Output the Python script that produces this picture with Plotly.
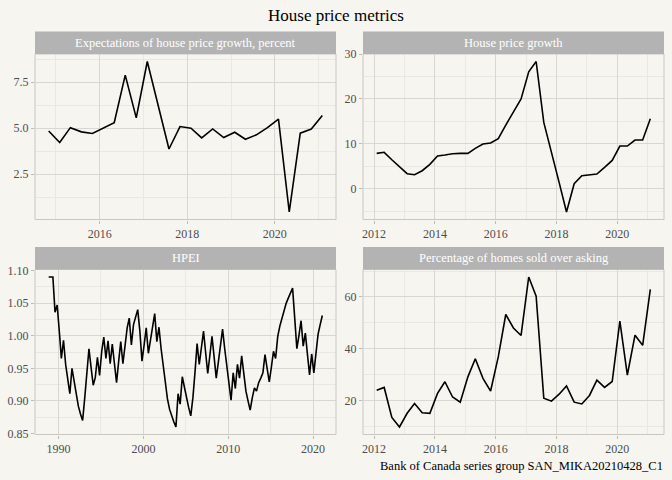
import pandas as pd
import plotly.graph_objects as go

# ---------------- data ----------------
expect_dates = pd.date_range("2014-11-01", periods=26, freq="3MS")
expect_vals = [4.85, 4.22, 5.03, 4.80, 4.71, 5.02, 5.30, 7.88, 5.56, 8.62, 6.25, 3.87,
               5.09, 5.00, 4.47, 4.96, 4.49, 4.78, 4.40, 4.64, 5.03, 5.49, 0.45, 4.73,
               4.95, 5.69]

hpg_dates = pd.date_range("2012-02-01", periods=37, freq="3MS")
hpg_vals = [7.87, 8.10, 6.45, 4.90, 3.34, 3.12, 4.00, 5.42, 7.28, 7.50, 7.80, 7.87,
            7.87, 8.98, 9.95, 10.18, 11.14, 14.18, 17.20, 20.00, 26.06, 28.35, 14.77,
            8.30, 1.40, -5.20, 1.11, 2.90, 3.04, 3.27, 4.75, 6.30, 9.50, 9.50, 10.85,
            10.85, 15.60]

hpei_dates = pd.date_range("1988-11-01", periods=130, freq="3MS")
hpei_vals = [1.090, 1.090, 1.090, 1.036, 1.047, 1.007, 0.965, 0.993, 0.956, 0.933,
             0.911, 0.950, 0.928, 0.907, 0.892, 0.880, 0.870, 0.905, 0.946, 0.980,
             0.951, 0.924, 0.936, 0.967, 0.939, 0.976, 0.998, 0.965, 0.992, 0.957,
             0.987, 0.956, 0.928, 0.961, 0.991, 0.957, 0.986, 1.012, 1.027, 0.986,
             1.017, 1.030, 1.040, 1.007, 0.961, 0.986, 1.012, 0.973, 0.993, 1.013,
             1.034, 0.991, 1.013, 0.980, 0.952, 0.925, 0.903, 0.887, 0.876, 0.868,
             0.860, 0.911, 0.895, 0.937, 0.921, 0.902, 0.890, 0.877, 0.905, 0.945,
             0.988, 0.956, 0.980, 1.007, 0.975, 0.942, 0.970, 0.999, 0.968, 0.935,
             0.960, 0.985, 1.010, 0.980, 0.955, 0.928, 0.901, 0.943, 0.919, 0.956,
             0.935, 0.969, 0.942, 0.915, 0.900, 0.886, 0.905, 0.920, 0.915, 0.928,
             0.935, 0.943, 0.971, 0.950, 0.929, 0.952, 0.976, 0.965, 0.999, 1.015,
             1.027, 1.040, 1.050, 1.058, 1.066, 1.073, 1.027, 0.980, 1.000, 1.023,
             0.984, 1.004, 0.972, 0.940, 0.972, 0.943, 0.972, 1.002, 1.017, 1.031]

over_dates = pd.date_range("2012-02-01", periods=37, freq="3MS")
over_vals = [23.9, 25.0, 13.4, 9.7, 15.0, 18.8, 15.2, 15.0, 22.7, 27.2, 21.3, 19.3,
             29.1, 36.1, 28.5, 23.6, 36.8, 53.2, 48.0, 45.1, 67.7, 60.3, 20.8, 19.7,
             22.4, 25.6, 19.3, 18.6, 21.9, 27.8, 25.0, 27.3, 50.6, 29.8, 45.2, 41.3,
             62.9]

panel_titles = ["Expectations of house price growth, percent", "House price growth",
                "HPEI", "Percentage of homes sold over asking"]
title_text = "House price metrics"
caption_text = "Bank of Canada series group SAN_MIKA20210428_C1"

# ---------------- style ----------------
W, H = 672, 480
BG = "#F7F5F0"
STRIP = "#B3B3B3"
GRID = "#D9D7D3"
MINOR = "#EAE8E3"
BORDER = "#C9C7C3"
TICKC = "#4D4D4D"
FONT = "Liberation Serif"

def px_x(p):
    return p / W

def px_y(p):
    return 1 - p / H

# panel pixel boxes (left, right, top, bottom) of plotting area
boxes = [(35, 336, 54, 219.5), (363, 664, 54, 219.5),
         (35, 336, 269.5, 434.5), (363, 664, 269.5, 434.5)]
strip_h = 22.5

series = [(expect_dates, expect_vals), (hpg_dates, hpg_vals),
          (hpei_dates, hpei_vals), (over_dates, over_vals)]

yspecs = [dict(tick0=0, dtick=2.5, tickformat=".1f"),
          dict(tick0=0, dtick=10, tickformat="d"),
          dict(tick0=0, dtick=0.05, tickformat=".2f"),
          dict(tick0=0, dtick=20, tickformat="d")]
xspecs = [dict(tick0="2016-01-01", dtick="M24", minor="M12"),
          dict(tick0="2012-01-01", dtick="M24", minor="M12"),
          dict(tick0="1990-01-01", dtick="M120", minor="M60"),
          dict(tick0="2012-01-01", dtick="M24", minor="M12")]

fig = go.Figure()
shapes = []
annotations = []

for i, ((d, v), box, ys, xs, ttl) in enumerate(zip(series, boxes, yspecs, xspecs, panel_titles)):
    n = i + 1
    xa = "x" if n == 1 else f"x{n}"
    ya = "y" if n == 1 else f"y{n}"
    fig.add_trace(go.Scatter(x=d, y=v, mode="lines", xaxis=xa, yaxis=ya,
                             line=dict(color="black", width=1.6), showlegend=False,
                             hoverinfo="x+y"))
    l, r, t, b = box
    vmin, vmax = min(v), max(v)
    span = vmax - vmin
    yr = [vmin - 0.05 * span, vmax + 0.05 * span]
    dmin, dmax = d.min(), d.max()
    dspan = dmax - dmin
    xr = [dmin - 0.05 * dspan, dmax + 0.05 * dspan]
    axis_common = dict(showline=False, zeroline=False, ticks="outside", ticklen=3,
                       tickcolor="#BDBBB7", tickwidth=1, automargin=False,
                       tickfont=dict(family=FONT, size=12, color=TICKC),
                       gridcolor=GRID, gridwidth=1, showgrid=True)
    fig.layout[f"xaxis{'' if n == 1 else n}"] = dict(
        axis_common, domain=[px_x(l), px_x(r)], anchor=ya, type="date",
        range=[xr[0], xr[1]], tick0=xs["tick0"], dtick=xs["dtick"], tickformat="%Y",
        minor=dict(dtick=xs["minor"], tick0=xs["tick0"], showgrid=True,
                   gridcolor=MINOR, gridwidth=1, ticks=""))
    fig.layout[f"yaxis{'' if n == 1 else n}"] = dict(
        axis_common, domain=[px_y(b), px_y(t)], anchor=xa, range=yr,
        tick0=ys["tick0"], dtick=ys["dtick"], tickformat=ys["tickformat"],
        minor=dict(dtick=ys["dtick"] / 2, tick0=ys["tick0"], showgrid=True,
                   gridcolor=MINOR, gridwidth=1, ticks=""))
    # panel border
    shapes.append(dict(type="rect", xref="paper", yref="paper",
                       x0=px_x(l), x1=px_x(r), y0=px_y(b), y1=px_y(t),
                       line=dict(color=BORDER, width=1), fillcolor="rgba(0,0,0,0)",
                       layer="above"))
    # strip
    shapes.append(dict(type="rect", xref="paper", yref="paper",
                       x0=px_x(l), x1=px_x(r), y0=px_y(t), y1=px_y(t - strip_h),
                       line=dict(width=0), fillcolor=STRIP, layer="above"))
    annotations.append(dict(text=ttl, xref="paper", yref="paper",
                            x=px_x((l + r) / 2), y=px_y(t - strip_h / 2),
                            xanchor="center", yanchor="middle", showarrow=False,
                            font=dict(family=FONT, size=12.5, color="white")))

annotations.append(dict(text=title_text, xref="paper", yref="paper", x=px_x(336),
                        y=px_y(15), xanchor="center", yanchor="middle", showarrow=False,
                        font=dict(family=FONT, size=17, color="black")))
annotations.append(dict(text=caption_text, xref="paper", yref="paper", x=px_x(665),
                        y=px_y(466), xanchor="right", yanchor="middle", showarrow=False,
                        font=dict(family=FONT, size=12.5, color="black")))

fig.update_layout(template="none", width=W, height=H,
                  margin=dict(l=0, r=0, t=0, b=0, pad=0),
                  paper_bgcolor=BG, plot_bgcolor=BG, shapes=shapes,
                  annotations=annotations, font=dict(family=FONT),
                  showlegend=False)

fig.write_html("out.html", config={"displayModeBar": False},
               post_script="document.body.style.margin='0';"
                           "document.body.style.padding='0';"
                           "document.body.style.overflow='hidden';"
                           "document.body.style.background='" + BG + "';")
